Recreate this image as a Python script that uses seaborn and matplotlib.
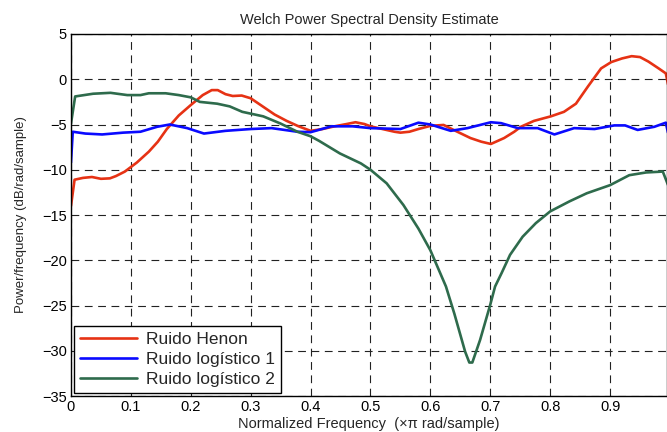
import numpy as np
import pandas as pd
import matplotlib
matplotlib.use("Agg")
import matplotlib.pyplot as plt
import seaborn as sns

# Ruido Henon
henon_f = [0, 0.006, 0.02, 0.035, 0.05, 0.065, 0.075, 0.09, 0.11, 0.13, 0.145,
           0.16, 0.18, 0.2, 0.22, 0.235, 0.245, 0.258, 0.27, 0.285, 0.3, 0.32,
           0.34, 0.36, 0.38, 0.4, 0.42, 0.44, 0.46, 0.475, 0.49, 0.5, 0.52,
           0.54, 0.55, 0.565, 0.58, 0.6, 0.622, 0.645, 0.667, 0.685, 0.701,
           0.723, 0.74, 0.751, 0.773, 0.801, 0.823, 0.843, 0.863, 0.885, 0.902,
           0.92, 0.936, 0.95, 0.964, 0.981, 0.993, 0.998]
henon_v = [-14, -11.1, -10.9, -10.8, -11, -10.95, -10.7, -10.2, -9.2, -8.0, -6.9,
           -5.5, -4.0, -2.85, -1.75, -1.2, -1.2, -1.65, -1.85, -1.8, -2.1, -3.0,
           -3.9, -4.6, -5.2, -5.7, -5.5, -5.2, -4.95, -4.75, -4.95, -5.2, -5.5,
           -5.8, -5.9, -5.8, -5.5, -5.15, -5.05, -5.8, -6.5, -6.9, -7.15,
           -6.5, -5.8, -5.25, -4.6, -4.1, -3.6, -2.7, -0.8, 1.2, 1.9,
           2.3, 2.55, 2.45, 1.95, 1.2, 0.65, -1.0]

# Ruido logistico 1
log1_f = [0, 0.003, 0.024, 0.052, 0.087, 0.116, 0.144, 0.165, 0.194, 0.222,
          0.258, 0.3, 0.335, 0.378, 0.4, 0.435, 0.47, 0.5, 0.55, 0.58, 0.6,
          0.634, 0.662, 0.701, 0.718, 0.746, 0.779, 0.807, 0.84, 0.874, 0.907,
          0.925, 0.946, 0.974, 0.993, 0.998]
log1_v = [-9.2, -5.8, -6.0, -6.1, -5.9, -5.8, -5.25, -5.0, -5.4, -6.0,
          -5.7, -5.5, -5.4, -5.8, -5.85, -5.2, -5.2, -5.4, -5.5, -4.8, -5.0,
          -5.7, -5.4, -4.75, -4.85, -5.4, -5.4, -6.1, -5.4, -5.5, -5.1,
          -5.1, -5.6, -5.25, -4.8, -6.3]

# Ruido logistico 2
log2_f = [0, 0.007, 0.037, 0.066, 0.094, 0.116, 0.13, 0.158, 0.18, 0.2, 0.215,
          0.244, 0.265, 0.286, 0.321, 0.35, 0.378, 0.4, 0.414, 0.449, 0.484,
          0.5, 0.527, 0.555, 0.58, 0.6, 0.626, 0.64, 0.658, 0.665, 0.67, 0.683,
          0.7, 0.708, 0.719, 0.733, 0.754, 0.776, 0.8, 0.832, 0.861, 0.9,
          0.932, 0.96, 0.988, 0.998]
log2_v = [-4.9, -1.9, -1.6, -1.5, -1.75, -1.75, -1.55, -1.55, -1.75, -2.0, -2.5,
          -2.7, -3.0, -3.6, -4.1, -4.9, -5.8, -6.3, -6.8, -8.2, -9.3,
          -10.0, -11.5, -13.9, -16.5, -18.9, -22.9, -25.9, -30.1, -31.3, -31.3, -28.8,
          -24.9, -22.9, -21.4, -19.4, -17.4, -15.9, -14.6, -13.5, -12.6, -11.7,
          -10.6, -10.3, -10.2, -11.9]

names = ["Ruido Henon", "Ruido logístico 1", "Ruido logístico 2"]
colors = ["#e63214", "#0a0aff", "#2e6b4c"]

df = pd.concat([
    pd.DataFrame({"f": henon_f, "v": henon_v, "serie": names[0]}),
    pd.DataFrame({"f": log1_f, "v": log1_v, "serie": names[1]}),
    pd.DataFrame({"f": log2_f, "v": log2_v, "serie": names[2]}),
], axis=0)

sns.set_style("white")
plt.rcParams["font.family"] = ["Liberation Sans", "DejaVu Sans"]

fig = plt.figure(figsize=(6.67, 4.32), dpi=100)
ax = fig.add_axes([0.1064, 0.0833, 0.8936, 0.838])

sns.lineplot(data=df, x="f", y="v", hue="serie", palette=colors, sort=False,
             estimator=None, linewidth=1.9, ax=ax)

ax.set_xlim(0, 0.995)
ax.set_ylim(-35, 5)
ax.set_xticks(np.arange(0, 1.0, 0.1))
ax.set_xticklabels(["0", "0.1", "0.2", "0.3", "0.4", "0.5", "0.6", "0.7", "0.8", "0.9"])
ax.set_yticks(np.arange(-35, 6, 5))
ax.tick_params(direction="in", length=4, labelsize=10.5, colors="black", pad=3)
ax.grid(True, color="#222222", linestyle=(0, (7, 5)), linewidth=0.8)
for s in ax.spines.values():
    s.set_color("black")
    s.set_linewidth(1.0)

ax.set_title("Welch Power Spectral Density Estimate", fontsize=10.5, pad=7)
ax.set_xlabel("Normalized Frequency  (×π rad/sample)", fontsize=10.5, labelpad=2)
ax.set_ylabel("Power/frequency (dB/rad/sample)", fontsize=9.5, labelpad=11)

leg = ax.legend(loc="lower left", fontsize=12.5, frameon=True, fancybox=False,
                framealpha=1, edgecolor="black", borderaxespad=0.2,
                handlelength=3.3, handletextpad=0.55, labelspacing=0.3, borderpad=0.3)
leg.get_frame().set_linewidth(1.0)

fig.savefig("out.png", dpi=100)
